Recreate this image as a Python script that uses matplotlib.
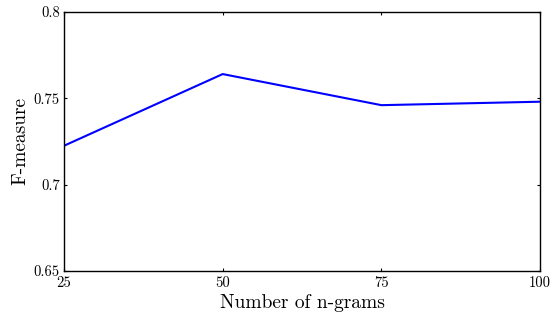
import matplotlib.pyplot as plt

plt.rcParams['font.family'] = 'cmr10'
plt.rcParams['mathtext.fontset'] = 'cm'
plt.rcParams['axes.formatter.use_mathtext'] = True

# 数据
n_grams = [25, 50, 75, 100]
f_measure = [0.7225, 0.764, 0.746, 0.748]
x_ticks = [25, 50, 75, 100]
y_ticks = [0.65, 0.7, 0.75, 0.8]
y_labels = ['0.65', '0.7', '0.75', '0.8']

fig = plt.figure(figsize=(5.53, 3.16), dpi=100)
ax = fig.add_axes([0.1157, 0.1424, 0.861, 0.82])

ax.plot(n_grams, f_measure, color='#0000ff', linewidth=1.5)

ax.set_xlim(25, 100)
ax.set_ylim(0.65, 0.8)
ax.set_xticks(x_ticks)
ax.set_xticklabels([str(v) for v in x_ticks])
ax.set_yticks(y_ticks)
ax.set_yticklabels(y_labels)
ax.tick_params(direction='in', length=2.5, width=0.8, labelsize=10.5,
               top=True, right=True)
ax.tick_params(axis='x', pad=4)
ax.tick_params(axis='y', pad=3)
for s in ax.spines.values():
    s.set_linewidth(1.0)

ax.set_xlabel('Number of n-grams', fontsize=14, labelpad=3)
ax.set_ylabel('F-measure', fontsize=14, labelpad=3)

fig.savefig('out.png', dpi=100, facecolor='white')
